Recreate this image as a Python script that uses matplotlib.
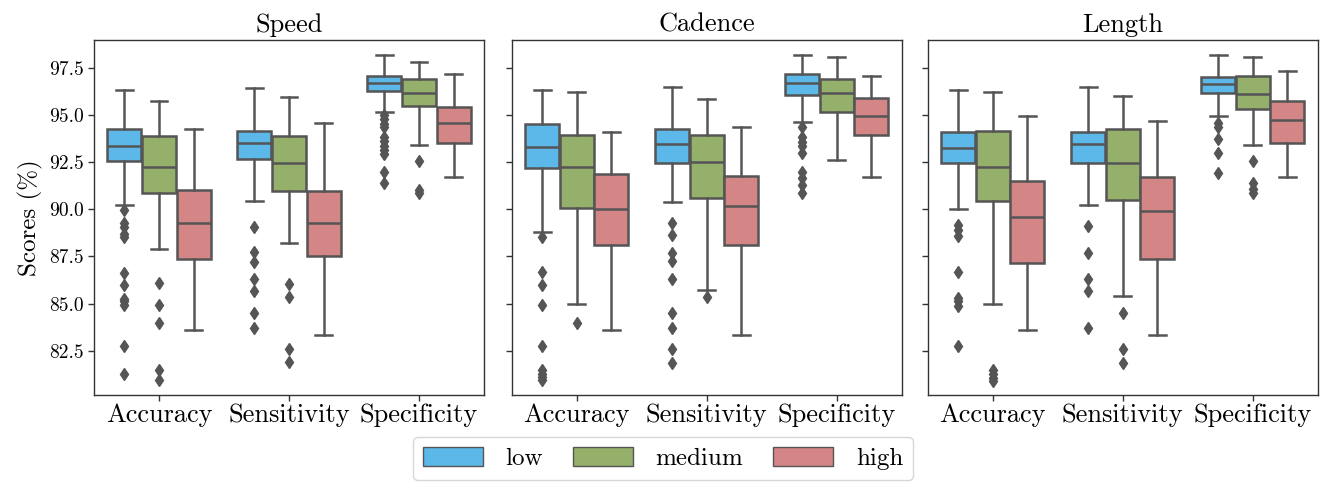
import matplotlib
matplotlib.use("Agg")
import matplotlib.pyplot as plt
from matplotlib.patches import Patch

plt.rcParams['font.family'] = ['cmr10', 'DejaVu Serif']
plt.rcParams['axes.formatter.use_mathtext'] = True
plt.rcParams['mathtext.fontset'] = 'cm'

panels = ["Speed", "Cadence", "Length"]
metrics = ["Accuracy", "Sensitivity", "Specificity"]
levels = ["low", "medium", "high"]
colors = ["#5CB8E8", "#95B06A", "#D48585"]
line_color = "#555555"

# each row: [whislo, q1, median, q3, whishi]; order: metric-major, level-minor
speed_stats = [
    [90.22, 92.54, 93.35, 94.23, 96.32],
    [87.92, 90.84, 92.22, 93.88, 95.73],
    [83.60, 87.34, 89.28, 91.02, 94.23],
    [90.43, 92.64, 93.52, 94.16, 96.44],
    [88.19, 90.98, 92.46, 93.88, 95.93],
    [83.33, 87.55, 89.28, 90.98, 94.55],
    [95.17, 96.28, 96.70, 97.06, 98.15],
    [93.40, 95.47, 96.14, 96.88, 97.80],
    [91.72, 93.52, 94.58, 95.40, 97.16],
]
speed_fliers = [
    [89.96, 89.25, 89.07, 88.68, 88.54, 86.63, 85.98, 85.27, 85.15, 84.92, 82.75, 81.26],
    [86.07, 84.92, 83.98, 81.48, 80.98],
    [],
    [89.07, 87.75, 87.22, 86.28, 85.68, 84.51, 83.72],
    [86.03, 85.36, 82.62, 81.92],
    [],
    [94.99, 94.76, 94.51, 94.34, 93.84, 93.63, 93.35, 93.14, 92.92, 91.99, 91.40],
    [92.57, 91.02, 90.87],
    [],
]

cadence_stats = [
    [88.79, 92.17, 93.31, 94.51, 96.33],
    [84.97, 90.05, 92.23, 93.94, 96.19],
    [83.59, 88.10, 89.99, 91.87, 94.07],
    [90.37, 92.47, 93.46, 94.24, 96.46],
    [85.75, 90.62, 92.53, 93.94, 95.84],
    [83.32, 88.10, 90.17, 91.77, 94.35],
    [94.60, 96.07, 96.69, 97.18, 98.17],
    [92.62, 95.13, 96.15, 96.93, 98.05],
    [91.73, 93.92, 94.92, 95.91, 97.08],
]
cadence_fliers = [
    [88.54, 86.69, 85.98, 84.92, 82.74, 81.50, 81.29, 81.11, 80.97],
    [83.99],
    [],
    [89.25, 88.63, 87.69, 87.27, 86.28, 84.51, 83.71, 82.62, 81.87],
    [85.36],
    [],
    [94.35, 93.82, 93.59, 93.36, 93.00, 91.99, 91.64, 91.29, 90.88],
    [],
    [],
]

length_stats = [
    [89.99, 92.44, 93.27, 94.07, 96.33],
    [84.97, 90.44, 92.23, 94.15, 96.19],
    [83.59, 87.13, 89.61, 91.50, 94.92],
    [90.23, 92.47, 93.46, 94.12, 96.46],
    [85.39, 90.49, 92.47, 94.24, 95.98],
    [83.32, 87.39, 89.93, 91.73, 94.70],
    [94.95, 96.15, 96.65, 97.00, 98.17],
    [93.41, 95.31, 96.10, 97.08, 98.05],
    [91.73, 93.50, 94.74, 95.75, 97.32],
]
length_fliers = [
    [89.16, 88.90, 88.58, 86.67, 85.31, 85.13, 84.90, 82.75],
    [81.48, 81.29, 81.08, 80.90],
    [],
    [89.11, 87.69, 86.28, 85.68, 83.71],
    [84.51, 82.62, 81.87],
    [],
    [94.56, 94.35, 93.71, 93.00, 91.94],
    [92.58, 91.41, 91.06, 90.85],
    [],
]

all_stats = [speed_stats, cadence_stats, length_stats]
all_fliers = [speed_fliers, cadence_fliers, length_fliers]
yticks = [82.5, 85.0, 87.5, 90.0, 92.5, 95.0, 97.5]

fig = plt.figure(figsize=(13.22, 4.84), dpi=100)
lefts = [94, 511.7, 927.7]
W, H = 1322.0, 484.0
axes = []
for k, (name, stats, fliers) in enumerate(zip(panels, all_stats, all_fliers)):
    ax = fig.add_axes([lefts[k] / W, (H - 395) / H, 390 / W, 355 / H])
    axes.append(ax)
    step = 0.8 / 3
    for i in range(len(metrics)):
        for j in range(len(levels)):
            idx = i * 3 + j
            lo, q1, med, q3, hi = stats[idx]
            bs = dict(whislo=lo, q1=q1, med=med, q3=q3, whishi=hi,
                      fliers=fliers[idx])
            pos = i + (j - 1) * step
            ax.bxp([bs], positions=[pos], widths=step * 0.98,
                   patch_artist=True, showfliers=True,
                   boxprops=dict(facecolor=colors[j], edgecolor=line_color, linewidth=1.8),
                   medianprops=dict(color=line_color, linewidth=1.8),
                   whiskerprops=dict(color=line_color, linewidth=1.8),
                   capprops=dict(color=line_color, linewidth=1.8),
                   flierprops=dict(marker='d', markerfacecolor=line_color,
                                   markeredgecolor=line_color, markersize=6,
                                   linestyle='none'))
    ax.set_xlim(-0.5, 2.5)
    ax.set_ylim(80.16, 98.97)
    ax.set_xticks(range(len(metrics)))
    ax.set_xticklabels(metrics, fontsize=19)
    ax.set_yticks(yticks)
    if k == 0:
        ax.set_yticklabels([f"{v:.1f}" for v in yticks], fontsize=14)
        ax.set_ylabel("Scores (%)", fontsize=18)
    else:
        ax.set_yticklabels([])
    ax.set_title(name, fontsize=19, pad=6)
    ax.tick_params(axis='both', direction='out', length=4, width=1, color='#333333')
    ax.tick_params(axis='x', pad=2)
    for sp in ax.spines.values():
        sp.set_color('#333333')
        sp.set_linewidth(1.0)

handles = [Patch(facecolor=c, edgecolor=line_color, linewidth=1.0) for c in colors]
fig.legend(handles, levels, loc='upper center', bbox_to_anchor=(0.5016, 0.097),
           ncol=3, fontsize=18, handlelength=2.4, handleheight=0.8,
           handletextpad=0.9, columnspacing=1.2, frameon=True,
           fancybox=True, borderaxespad=0.0)

fig.savefig("out.png", dpi=100)
